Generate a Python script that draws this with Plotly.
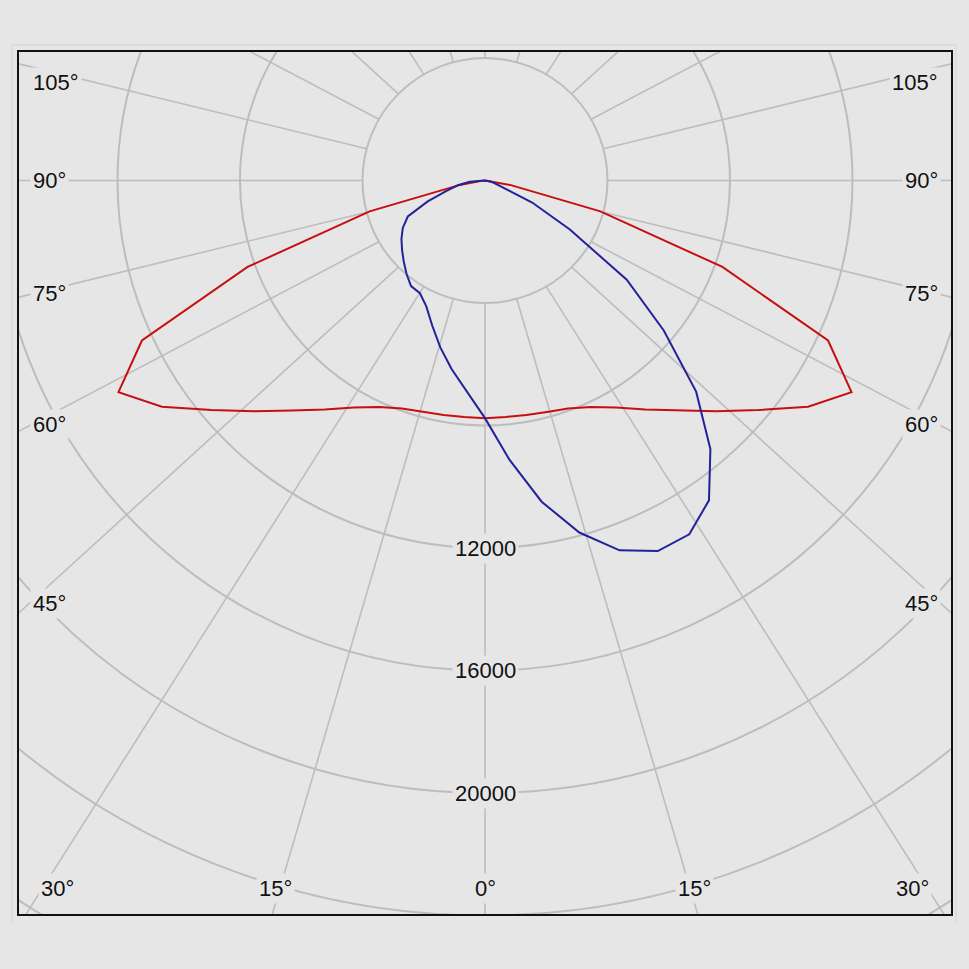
import numpy as np
import plotly.graph_objects as go

# gamma angles (deg from nadir) and luminous intensity (cd)
gamma = [0, 5, 10, 15, 20, 25, 30, 35, 40, 45, 50, 55, 60, 65, 70, 75, 80, 85, 90]
c0_cd = [7760, 7752, 7775, 7826, 7923, 8160, 8560, 9130, 9800, 10660,
         11660, 12880, 13820, 12360, 8250, 3900, 830, 150, 0]
c180_cd = [7760, 7752, 7775, 7826, 7923, 8160, 8560, 9130, 9800, 10660,
           11660, 12880, 13820, 12360, 8250, 3900, 830, 150, 0]
c90_cd = [7760, 9150, 10650, 11900, 12850, 13350, 13340, 12750, 11450, 9750,
          7620, 5650, 3200, 1700, 640, 300, 180, 80, 0]
c270_cd = [7760, 6900, 6260, 5640, 5040, 4535, 4250, 4210, 3985, 3750,
           3535, 3330, 3100, 2780, 1990, 1300, 900, 500, 0]

ring_values = [4000, 8000, 12000, 16000, 20000, 24000, 28000]
ring_labels = [12000, 16000, 20000]
side_label_angles = [105, 90, 75, 60, 45]
bottom_label_angles = [30, 15, 0]

BG = "#e6e6e6"
GRID = "#bdbdbd"
FONT = dict(family="Liberation Sans, Arial, sans-serif", size=22, color="#111111")

# pixel scale of the original drawing: 0.030625 px per cd, pole at (485, 180.5)
S = 0.030625
W, H = 969, 969
L, R, T, B = 19, 18, 52, 55
CX, CY = 485, 180.5


def px_x(p):
    return (p - CX) / S


def px_y(p):
    return (CY - p) / S


def to_xy(angles, values, side):
    a = np.radians(angles)
    v = np.asarray(values, dtype=float)
    return side * v * np.sin(a), -v * np.cos(a)


def plane(left_vals, right_vals):
    xl, yl = to_xy(gamma[::-1], left_vals[::-1], -1)
    xr, yr = to_xy(gamma[1:], right_vals[1:], 1)
    return np.concatenate([xl, xr]), np.concatenate([yl, yr])


fig = go.Figure()

x_red, y_red = plane(c180_cd, c0_cd)
fig.add_trace(go.Scatter(x=x_red, y=y_red, mode="lines", name="C0 - C180",
                         line=dict(color="#c80f0f", width=2)))
x_blue, y_blue = plane(c270_cd, c90_cd)
fig.add_trace(go.Scatter(x=x_blue, y=y_blue, mode="lines", name="C90 - C270",
                         line=dict(color="#22229a", width=2)))

shapes = []
for r in ring_values:
    shapes.append(dict(type="circle", xref="x", yref="y", x0=-r, y0=-r, x1=r, y1=r,
                       line=dict(color=GRID, width=2), layer="below"))

# spokes every 15 deg, starting at the innermost ring
k, far = 0.92, 40000
for g in range(0, 360, 15):
    a = np.radians(g)
    shapes.append(dict(type="line", xref="x", yref="y",
                       x0=4000 * np.sin(a), y0=-4000 * np.cos(a),
                       x1=far * np.sin(a), y1=-k * far * np.cos(a),
                       line=dict(color=GRID, width=1.6), layer="below"))

# faint outer border of the window
for x0, y0, x1, y1 in [(12, 45, 956, 45), (12, 45, 12, 923), (956, 45, 956, 923)]:
    shapes.append(dict(type="line", xref="paper", yref="paper",
                       x0=(x0 - L) / (W - L - R), x1=(x1 - L) / (W - L - R),
                       y0=(H - B - y0) / (H - T - B), y1=(H - B - y1) / (H - T - B),
                       line=dict(color="#d3d3d3", width=1)))

annotations = []
edge_x = px_x(62)
top_limit = px_y(82)
for g in side_label_angles:
    a = np.radians(g)
    y = min(edge_x * np.cos(a) / np.sin(a), top_limit)
    for xpos, anchor in [(px_x(30), "left"), (px_x(941), "right")]:
        annotations.append(dict(x=xpos, y=y, text=f"{g}°", showarrow=False,
                                xanchor=anchor, yanchor="middle", font=FONT,
                                bgcolor=BG, borderpad=2))

bottom_y = px_y(888)
for g in bottom_label_angles:
    dx = -bottom_y * np.tan(np.radians(g))
    if g == 0:
        annotations.append(dict(x=0, y=bottom_y, text="0°", showarrow=False,
                                xanchor="center", font=FONT, bgcolor=BG, borderpad=2))
    else:
        for sgn, anchor in [(-1, "right"), (1, "left")]:
            annotations.append(dict(x=sgn * dx, y=bottom_y, text=f"{g}°", showarrow=False,
                                    xanchor=anchor, font=FONT, bgcolor=BG, borderpad=2))

for r in ring_labels:
    annotations.append(dict(x=0, y=-r, text=str(r), showarrow=False, xanchor="center",
                            yanchor="middle", font=FONT, bgcolor=BG, borderpad=2))

fig.update_layout(
    width=W, height=H,
    margin=dict(l=L, r=R, t=T, b=B),
    paper_bgcolor=BG, plot_bgcolor=BG,
    showlegend=False,
    shapes=shapes,
    annotations=annotations,
    xaxis=dict(range=[px_x(L), px_x(W - R)], showgrid=False, zeroline=False,
               showticklabels=False, ticks="", showline=True, mirror=True,
               linecolor="#111111", linewidth=1.5, fixedrange=True),
    yaxis=dict(range=[px_y(H - B), px_y(T)], showgrid=False, zeroline=False,
               showticklabels=False, ticks="", showline=True, mirror=True,
               linecolor="#111111", linewidth=1.5, fixedrange=True),
)

fig.write_html(
    "out.html",
    config=dict(displayModeBar=False),
    post_script="document.body.style.margin='0';document.body.style.background='" + BG + "';",
)
